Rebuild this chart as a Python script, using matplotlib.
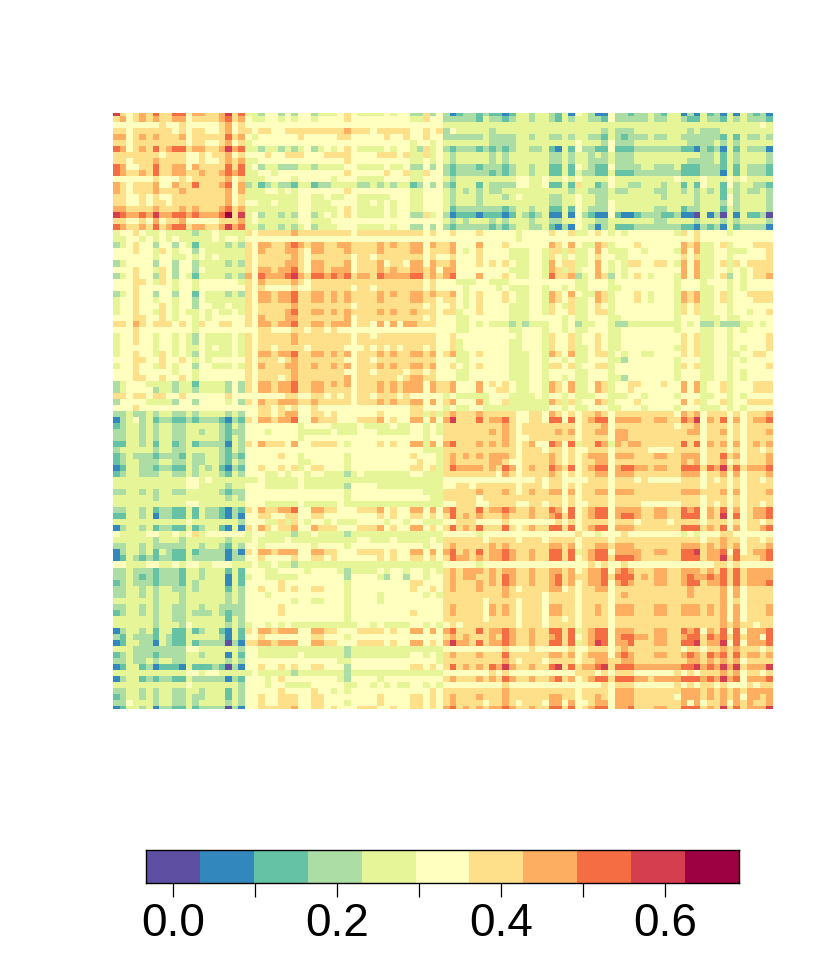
import numpy as np
import matplotlib
matplotlib.use('Agg')
import matplotlib.pyplot as plt
from matplotlib.colors import ListedColormap

plt.rcParams['font.family'] = ['Liberation Sans', 'DejaVu Sans']

colors = ['#5E4FA2', '#3288BD', '#66C2A5', '#ABDDA4', '#E6F598', '#FFFFBF',
          '#FEE08B', '#FDAE61', '#F46D43', '#D53E4F', '#9E0142']
bar_min = -0.033
bar_max = 0.69
tick_values = [0.0, 0.1, 0.2, 0.3, 0.4, 0.5, 0.6]
tick_labels = ['0.0', '', '0.2', '', '0.4', '', '0.6']

# colour class of each cell, upper triangle only
# (the matrix is symmetric), row i starts at column i; a = darkest class
upper_rows = [
    "9656768668 8577667968 4435535355 3444565444 4545533635 3123323221 2443443241 5431153323 3432441314 2314143231",
    "756767667 7566667867 5445545455 4555565555 5555544655 3333324332 3443443243 4433253333 3433443224 3324343332",
    "55555655 6555556756 5555555555 5555555555 5555555555 4444444444 4444444444 4444444444 4444444444 4444444454",
    "6666665 6566556756 6566556666 6666676665 6666655656 3544444344 4444444444 4444343334 4444444343 3344444444",
    "767666 7566666867 5455555565 5555665555 5655655655 3333334333 3443443343 4433243233 3433443333 3324243343",
    "66666 6566556756 4555555555 5555555555 5555545545 4444444333 3444444444 5444353334 4444444333 3434344444",
    "8678 8677667978 4434434345 3454565444 4545543645 3233323232 3443342142 5332252223 3333332213 2314243331",
    "566 6556566756 5556556665 5566665555 6665644645 4344444343 4444443343 4434343334 4444444443 3424344443",
    "66 6556556767 4455555555 5555565555 5555544545 4344444343 4444443343 4433343334 4444444333 3424344443",
    "7 7576666868 4534433344 3444455444 4544533535 3233323332 3443442242 5432253333 4433342223 3324243332",
    "7667667878 4455455555 5555565555 5655644655 3233333232 3443442242 4332242223 3333332223 3314243332",
    "566666756 4445555455 5554555444 4555544555 4344444444 4554454454 5444454444 4444454445 4445454444",
    "86667857 3423433244 2334444334 3434423535 3244424333 3554452242 6442354433 4443442425 4425344332",
    "6666757 4445545455 5555565555 5555544555 4343434334 4444444443 4433343344 4433443434 3424343343",
    "666756 4444444455 4454455444 4455544555 4344434443 4544443344 5443344444 4443444434 4425344443",
    "66756 5544544455 4445555445 4545544555 4344434444 4444443344 5443354444 4444444434 4435344443",
    "7867 4444444455 4444565444 4545544555 4233333332 3443442242 5433354444 4433442334 4424344443",
    "a69 4534434355 3454565444 4545533645 3122212221 2432341141 5321152112 3332231104 1304142230",
    "67 4544444455 4445555555 5555555555 4343444343 4443443344 5443344444 4433444434 4434344443",
    "8 4434434345 3444555444 4545533535 3233333232 3443342131 5431342223 3333332213 2314233331",
    "6566666766 6666665666 6666666565 5655565555 5455556556 4456545455 5555546565 5554555555",
    "555555555 5555555555 5555555555 5555555555 5455555555 5555555555 5555555565 5555555555",
    "77667876 7766776666 7676677576 6755575556 5555557657 5447645556 5555557674 4564555666",
    "6667765 7766676666 7666677566 6754565555 4445546646 4457544455 4555547574 4554445556",
    "666765 6666665665 6666666565 5655565555 4445546545 4456554455 5555556564 4554555556",
    "67765 7766675666 7566577576 6755565656 5445547566 4457545466 5566547574 4564656666",
    "7865 7767775666 7676677675 7755555555 4445547646 4557545455 5555557574 4554545666",
    "976 8878786776 8777788676 7855575556 5445548667 3457635456 5455547574 4563545667",
    "65 6666666666 6666666565 5544455444 5555555555 4455545555 5555545554 5554545555",
    "5 6666665665 6666666565 5554555545 4445545545 4455544555 5555545554 4554545555",
    "7767676666 7676677676 6754565556 5445547657 5447645556 5455547674 4564556666",
    "767676666 7666677665 6654565556 5445547656 4457645556 5455547674 4564555666",
    "66665666 6666666565 5654565555 4445546546 4456545555 5555546564 4554555555",
    "7676666 7676676665 6645565555 4445546556 4456645555 5555546564 4554554556",
    "675666 6666666565 5544555555 4445555545 4455544555 5555545554 4454455555",
    "75665 7575776665 5544545444 3434445545 3445543344 4444445453 3433344545",
    "5555 5555555555 5544555555 4455545545 4455544555 5555545554 4554545555",
    "665 6666666665 5655555555 5455546556 4556544555 5555556564 4554555556",
    "66 6666666665 5645555555 4455546556 4556544555 5555556564 4554555556",
    "5 6565666565 5645555555 4455546556 4456544555 5555546564 4554545556",
    "7676677675 6744565555 4445547657 4456645455 4455556564 4554455665",
    "666666665 5544555555 4445545545 4455544355 5555545554 4554545555",
    "76677675 5654565555 4445546656 4556645555 5555546564 4554555556",
    "6566565 5544555555 4445545555 4455545555 5555545554 4554545555",
    "677665 5544555555 4445545545 4455544355 5555545554 4554545555",
    "77576 6755575656 5445547657 4457645566 5556557574 5564555666",
    "7576 6755575566 5445547657 4457645565 5555557574 5564555666",
    "555 4544444555 4444545545 4445544455 4555545554 4554545555",
    "75 6755574556 4444447646 4557645556 5555557564 5564556666",
    "5 4544554444 4444445545 4455544555 4555545554 4454545555",
    "6766676666 6556657656 5667656666 6666657675 6665656667",
    "966686778 6556658858 5678857777 6677668795 7685756778",
    "66666667 6566666666 5666756666 6666656675 6665656666",
    "6666767 6566666767 5667757766 6666666775 6675656667",
    "666667 6556666666 5666657766 6666666665 6665656666",
    "76767 6567558758 4668747677 6666668685 7675756767",
    "6666 6566656656 5566656666 6555566665 6665656656",
    "777 6566667656 5677757776 6677667775 6686756667",
    "76 5566667656 5667756666 6666667675 6675656667",
    "8 7567668768 5678857887 7677668886 8796867778",
    "6566667656 5667757776 6666667775 6675756667",
    "555656655 5566656665 6555556665 6565656656",
    "66656656 5666656666 6666666665 6665656666",
    "7667757 5667757776 6666667776 6675756667",
    "666656 5666656666 6666666665 6665656666",
    "56656 5566656666 5555556665 6565656656",
    "8758 5678857777 6677668785 7685756778",
    "868 5678857887 6677668885 7695856778",
    "56 5666656665 6666566665 6665656656",
    "8 5678857776 6666668886 7685756678",
    "6554555655 5555554545 5566555555",
    "666656666 6666666665 6676656656",
    "67767776 6666667776 7676756667",
    "8857777 6677668896 7785856778",
    "868887 6666668886 7796866678",
    "55655 5555555555 5665655555",
    "7876 6677667776 7686867777",
    "886 7677667877 8786867777",
    "76 6677667886 7786867778",
    "6 6666666766 6675756666",
    "6666666766 6675756666",
    "666666666 6675656666",
    "77667776 7675756667",
    "7667776 7675756667",
    "666666 6675756666",
    "66666 6676766566",
    "8785 7685857778",
    "886 8786867758",
    "96 7795857778",
    "5 6676766656",
    "8786867767",
    "676756666",
    "97967779",
    "6756656",
    "857778",
    "56566",
    "7777",
    "767",
    "67",
    "9",
]

n = len(upper_rows)
rows = [r.replace(' ', '') for r in upper_rows]
bad = [(i, len(r)) for i, r in enumerate(rows) if len(r) != n - i]
if bad:
    raise ValueError(f'bad row lengths: {bad}')

levels = np.zeros((n, n), dtype=int)
for i, r in enumerate(rows):
    for k, ch in enumerate(r):
        levels[i, i + k] = int(ch, 16)
        levels[i + k, i] = int(ch, 16)

W, H = 830, 969
fig = plt.figure(figsize=(W / 100, H / 100), dpi=100)
cmap = ListedColormap(colors)

# heatmap, top and bottom rows are cut in half by the limits
ax = fig.add_axes([113 / W, 1 - 709 / H, 659 / W, 596 / H])
ax.imshow(levels, cmap=cmap, vmin=-0.5, vmax=10.5, aspect='auto',
          interpolation='nearest')
ax.set_xlim(-0.5, n - 0.5)
ax.set_ylim(n - 1, 0)
ax.axis('off')

# colour bar
cax = fig.add_axes([146 / W, 1 - 883 / H, 593 / W, 33 / H])
edges = np.linspace(bar_min, bar_max, len(colors) + 1)
cax.pcolormesh(edges, [0, 1], [np.arange(len(colors))], cmap=cmap,
               vmin=-0.5, vmax=10.5)
cax.set_xlim(bar_min, bar_max)
cax.set_yticks([])
cax.set_xticks(tick_values)
cax.set_xticklabels(tick_labels, fontsize=33)
cax.tick_params(axis='x', length=10, width=0.9, pad=4)
for s in cax.spines.values():
    s.set_linewidth(1.0)

fig.savefig('out.png', dpi=100)
